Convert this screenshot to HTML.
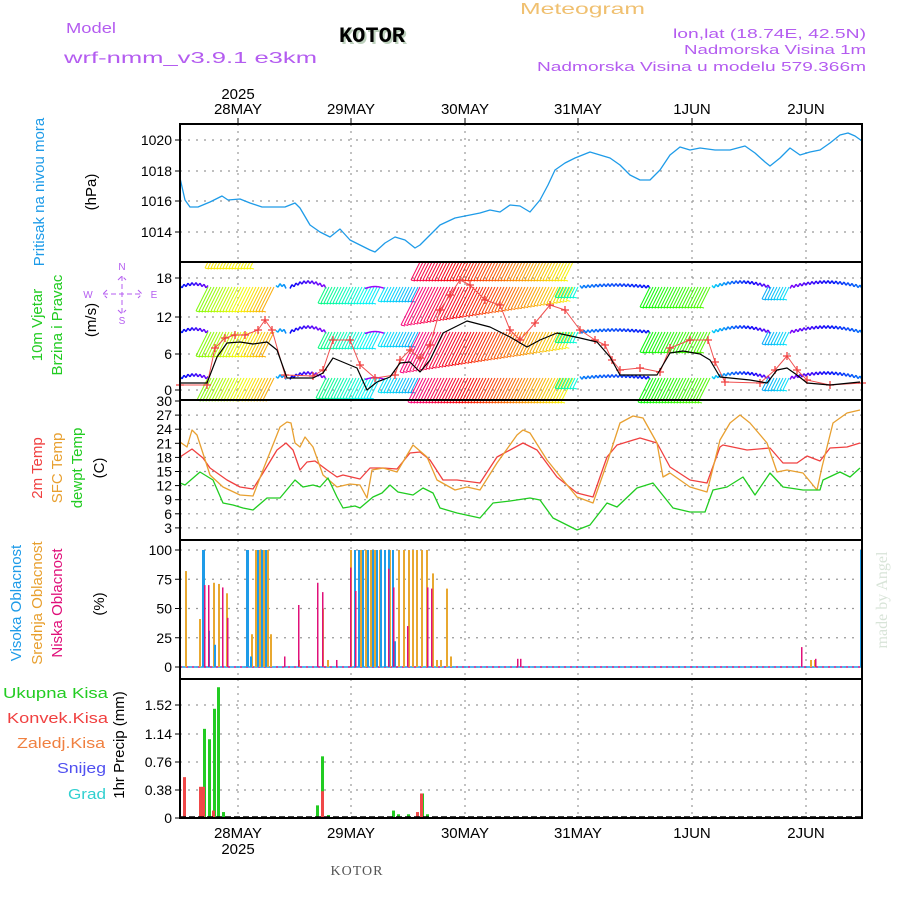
<!DOCTYPE html>
<html><head><meta charset="utf-8">
<style>
html,body{margin:0;padding:0;background:#fff;}
svg{display:block;font-family:"Liberation Sans",sans-serif;}
</style></head>
<body>
<svg id="s" width="900" height="900" xmlns="http://www.w3.org/2000/svg">
<g font-size="15" fill="#b45cf0" >
<text x="66" y="33" textLength="50" lengthAdjust="spacingAndGlyphs">Model</text>
<text x="64" y="63" font-size="16" textLength="253" lengthAdjust="spacingAndGlyphs">wrf-nmm_v3.9.1 e3km</text>
<text x="520" y="14" fill="#f0c070" font-size="16" textLength="125" lengthAdjust="spacingAndGlyphs">Meteogram</text>
<text x="673" y="38" font-size="13" textLength="193" lengthAdjust="spacingAndGlyphs">lon,lat (18.74E, 42.5N)</text>
<text x="684" y="54" font-size="13" textLength="182" lengthAdjust="spacingAndGlyphs">Nadmorska Visina 1m</text>
<text x="537" y="71" font-size="13" textLength="329" lengthAdjust="spacingAndGlyphs">Nadmorska Visina u modelu 579.366m</text>
</g>
<text x="374" y="44" text-anchor="middle" font-family="Liberation Mono,monospace" font-weight="bold" font-size="22" fill="#bcd0bc">KOTOR</text>
<text x="372" y="42" text-anchor="middle" font-family="Liberation Mono,monospace" font-weight="bold" font-size="22" fill="#000">KOTOR</text>
<text x="357" y="875" text-anchor="middle" font-family="Liberation Serif,serif" font-size="14" fill="#555" letter-spacing="1">KOTOR</text>
<text transform="translate(887,600) rotate(-90)" text-anchor="middle" font-family="Liberation Serif,serif" font-size="16" fill="#d8e4d8">made by Angel</text>
<g id="g"></g>
</svg>
<script>
var NS="http://www.w3.org/2000/svg",G=document.getElementById('g');
function el(t,a,txt){var e=document.createElementNS(NS,t);for(var k in a)e.setAttribute(k,a[k]);if(txt!=null)e.textContent=txt;G.appendChild(e);return e;}
function pl(pts,c,w){el('polyline',{points:pts.map(p=>p.join(',')).join(' '),fill:'none',stroke:c,'stroke-width':w||1.2,'stroke-linejoin':'round'});}
var X0=180,X1=862,days=[238,351,465,578,692,806];
var panels=[[124,262],[262,400],[400,540],[540,679],[679,818]];
function hgrid(y){el('line',{x1:X0,x2:X1,y1:y,y2:y,stroke:'#999','stroke-dasharray':'2,6','stroke-width':1.2});}
function tick(y,lab){el('line',{x1:X0-5,x2:X0,y1:y,y2:y,stroke:'#000'});el('text',{x:X0-8,y:y+5,'text-anchor':'end','font-size':14,fill:'#000'},lab);}
panels.forEach(p=>{days.forEach(d=>el('line',{x1:d,x2:d,y1:p[0],y2:p[1],stroke:'#999','stroke-dasharray':'2,5','stroke-width':1.2}));});
[[1020,140],[1018,171],[1016,201],[1014,232]].forEach(a=>{hgrid(a[1]);tick(a[1],a[0]);});
[[18,278],[12,317],[6,354],[0,390]].forEach(a=>{hgrid(a[1]);tick(a[1],a[0]);});
for(var v=3;v<=30;v+=3){var y=542-v*4.7;if(v<30)hgrid(y);tick(y,v);}
[100,75,50,25,0].forEach(v=>{var y=667-v*1.17;hgrid(y);tick(y,v);});
[[1.52,705],[1.14,734],[0.76,762],[0.38,790],[0,818]].forEach(a=>{if(a[0])hgrid(a[1]);tick(a[1],a[0]);});
var dl=['28MAY','29MAY','30MAY','31MAY','1JUN','2JUN'];
days.forEach((d,i)=>{el('text',{x:d,y:114,'text-anchor':'middle','font-size':15},dl[i]);el('line',{x1:d,x2:d,y1:118,y2:124,stroke:'#000'});});
el('text',{x:238,y:99,'text-anchor':'middle','font-size':15},'2025');
[[238,'28MAY'],[351,'29MAY'],[465,'30MAY'],[578,'31MAY'],[692,'1JUN'],[806,'2JUN']].forEach(a=>el('text',{x:a[0],y:838,'text-anchor':'middle','font-size':15},a[1]));
el('text',{x:238,y:854,'text-anchor':'middle','font-size':15},'2025');
pl([[180,178],[185,200],[190,207],[198,207],[210,202],[222,196],[228,200],[240,199],[250,203],[262,207],[275,207],[285,207],[295,203],[300,208],[310,225],[320,232],[330,237],[340,229],[350,240],[360,245],[370,250],[375,252],[385,243],[395,237],[405,240],[415,248],[420,245],[430,235],[440,225],[455,218],[465,216],[480,213],[490,210],[500,212],[510,205],[520,206],[530,212],[540,200],[548,185],[555,170],[565,163],[575,158],[590,152],[600,155],[610,158],[620,165],[630,175],[640,180],[650,180],[660,170],[670,155],[680,147],[690,150],[700,148],[715,150],[730,150],[745,146],[755,153],[765,162],[770,166],[780,158],[790,148],[800,155],[810,152],[820,150],[830,143],[840,135],[848,133],[855,136],[862,141]],'#1e9be8',1.3);
pl([[180,457],[192,449],[203,458],[210,468],[227,480],[240,487],[253,489],[263,473],[277,450],[286,443],[293,450],[300,470],[307,462],[315,461],[327,470],[337,477],[343,475],[360,479],[370,468],[383,468],[397,469],[410,453],[420,452],[430,460],[443,480],[457,480],[480,483],[497,457],[523,443],[537,450],[557,477],[577,493],[593,497],[607,457],[617,445],[640,438],[657,443],[670,467],[690,480],[707,483],[720,447],[723,445],[747,450],[770,448],[783,463],[797,463],[807,456],[820,461],[830,448],[847,447],[860,443]],'#f04040',1.3);
pl([[180,442],[187,447],[192,430],[197,435],[210,475],[223,487],[240,495],[253,496],[263,470],[280,427],[287,422],[291,423],[295,443],[300,447],[305,437],[313,447],[323,475],[337,487],[350,484],[360,485],[367,498],[372,470],[383,468],[397,472],[413,445],[427,457],[437,480],[455,490],[467,487],[480,490],[497,463],[517,435],[523,430],[530,433],[547,460],[563,480],[577,497],[593,503],[607,463],[620,423],[633,416],[643,418],[657,443],[663,477],[670,473],[690,487],[707,492],[720,440],[730,423],[740,415],[750,423],[767,443],[777,472],[787,470],[803,473],[817,490],[822,467],[833,423],[847,413],[860,410]],'#e8a030',1.3);
pl([[180,483],[185,485],[200,472],[213,480],[223,503],[233,505],[243,508],[253,510],[267,498],[280,498],[295,480],[303,487],[313,485],[320,487],[328,478],[337,497],[343,508],[355,506],[360,508],[373,497],[382,493],[390,485],[398,492],[413,495],[423,488],[433,493],[440,508],[457,513],[480,518],[493,503],[510,501],[530,498],[540,500],[553,518],[577,530],[590,525],[607,503],[617,507],[637,488],[653,483],[673,508],[690,512],[705,512],[713,490],[727,487],[743,477],[755,495],[770,473],[783,487],[803,490],[820,490],[823,480],[840,472],[850,477],[860,468]],'#20cc20',1.3);
function hue(h){h=((h%360)+360)%360;return 'hsl('+h.toFixed(0)+',95%,50%)';}
function hatch(x0,x1,base,L,h0,h1){for(var x=x0;x<=x1;x+=3){var t=(x-x0)/Math.max(1,x1-x0),h=h0+(h1-h0)*t;var l=typeof L=='function'?L(t):L;var x2=x-l*0.5,y2=base+l;el('line',{x1:x,y1:base,x2:x2,y2:y2,stroke:hue(h),'stroke-width':1});el('line',{x1:x2,y1:y2,x2:x2+4,y2:y2+1,stroke:hue(h),'stroke-width':1});}}
function arrows(x0,x1,base,h0,h1,amp){var pts=[];for(var x=x0;x<=x1;x+=2){var t=(x-x0)/Math.max(1,x1-x0);pts.push([x,base-Math.sin(t*Math.PI)*(amp||4)+((x%4)?1.5:-1.5)]);}
 for(var i=0;i<pts.length-1;i++){var t=i/pts.length;el('line',{x1:pts[i][0],y1:pts[i][1],x2:pts[i+1][0],y2:pts[i+1][1],stroke:hue(h0+(h1-h0)*t),'stroke-width':1.5});}}
[[287,0],[332,1],[378,2]].forEach(function(r){var b=r[0],k=r[1];
 arrows(180,208,b,235,270,3);
 hatch(208,275,b,k==2?22:24,90,40);
 arrows(276,286,b,200,210,2);
 arrows(290,326,b,240,275,5);
 hatch(326,380,b,k==2?20:16,150,185);
 arrows(365,385,b,275,280,2);
 hatch(385,420,b,14,185,200);
 hatch(420,575,b,function(t){return k==0?38-t*25:(k==1?40-t*25:24)},330,420);
 hatch(560,580,b,10,150,175);
 arrows(580,650,b,210,240,2);
 hatch(650,712,b,k==2?24:20,120,100);
 arrows(712,770,b,190,270,5);
 hatch(768,790,b,12,200,185);
 arrows(790,862,b,270,210,5);
});
hatch(208,255,262,6,55,60);hatch(420,575,262,18,340,420);
var blk=[[180,383],[207,383],[217,357],[227,343],[240,342],[253,344],[267,342],[277,350],[287,378],[313,378],[323,373],[333,358],[357,368],[367,390],[377,382],[390,377],[400,363],[410,362],[420,372],[430,360],[443,333],[467,321],[490,327],[510,337],[527,347],[540,340],[557,333],[580,338],[597,342],[610,357],[620,375],[633,375],[657,375],[670,353],[683,351],[700,354],[710,360],[720,377],[750,380],[767,383],[777,370],[787,368],[797,375],[807,383],[830,385],[860,382]];
var gst=[[180,385],[207,385],[215,348],[225,338],[235,335],[245,335],[258,330],[265,320],[272,330],[285,375],[313,376],[323,370],[333,340],[350,340],[360,365],[375,378],[395,375],[400,360],[410,350],[420,358],[430,345],[440,310],[450,295],[460,280],[470,285],[485,300],[500,305],[510,330],[520,340],[535,323],[550,305],[565,310],[580,330],[595,340],[605,345],[612,360],[620,370],[640,368],[660,372],[670,348],[690,340],[708,340],[715,362],[725,382],[760,383],[775,370],[787,356],[797,370],[807,380],[830,385],[862,383]];
pl(gst,'#f05050',1);
gst.forEach(p=>{el('path',{d:'M'+(p[0]-4)+' '+p[1]+'h8M'+p[0]+' '+(p[1]-4)+'v8',stroke:'#f04040','stroke-width':1.3});});
pl(blk,'#000',1.2);
function bar(x,v,c,w){var y=667-v*1.17;el('rect',{x:x,y:y,width:w||2,height:667-y,fill:c});}
el('line',{x1:180,x2:862,y1:667,y2:667,stroke:'#1e9be8','stroke-width':1.5});
el('line',{x1:180,x2:862,y1:667,y2:667,stroke:'#e81e8c','stroke-width':1.5,'stroke-dasharray':'2,4'});
var O='#e8a830',B='#1e9be8',P='#e0107a';
[[185,82],[199,41],[213,72],[218,71],[226,63],[251,28],[255,100],[259,100],[263,100],[267,100],[270,28],[298,6],[322,50],[327,6],[350,100],[360,100],[365,100],[370,100],[374,100],[379,100],[384,100],[389,100],[398,100],[403,100],[408,100],[412,100],[416,100],[421,100],[426,100],[432,80],[436,6],[440,6],[446,67],[450,9],[810,6],[814,6]].forEach(a=>bar(a[0],a[1],O));
[[202,100,3],[208,31],[214,19],[246,100,3],[250,9],[257,100],[261,100],[265,100],[354,100],[358,100],[362,100],[367,100],[372,100],[376,100],[380,100],[384,100],[388,100],[392,100],[394,22]].forEach(a=>bar(a[0],a[1],B,a[2]));
[[204,70],[208,70],[222,68],[227,42],[284,9],[298,53],[317,72],[322,64],[336,6],[350,85],[355,65],[388,84],[393,68],[407,35],[427,68],[431,67],[517,7],[520,7],[801,17],[815,7]].forEach(a=>bar(a[0],a[1],P,1.5));
el('rect',{x:860,y:550,width:2,height:117,fill:B});
function pb(x,v,c){var y=818-v*74.3;el('rect',{x:x,y:y,width:3,height:818-y,fill:c});}
[[203,1.2],[208,1.06],[213,1.47],[217,1.76],[222,0.08],[316,0.17],[321,0.83],[327,0.04],[392,0.1],[397,0.05],[407,0.05],[421,0.33],[426,0.05]].forEach(a=>pb(a[0],a[1],'#22cc22'));
[[183,0.55],[199,0.42],[202,0.42],[212,0.1],[321,0.36],[416,0.08],[420,0.33]].forEach(a=>pb(a[0],a[1],'#f04848'));
el('line',{x1:180,x2:862,y1:817,y2:817,stroke:'#000','stroke-width':1.5,'stroke-dasharray':'6,3'});
panels.forEach(p=>el('rect',{x:X0,y:p[0],width:X1-X0,height:p[1]-p[0],fill:'none',stroke:'#000','stroke-width':2}));
function rt(x,y,s,c,fs){el('text',{transform:'translate('+x+','+y+') rotate(-90)','text-anchor':'middle','font-size':fs||15,fill:c},s);}
rt(44,192,'Pritisak na nivou mora','#1e9be8');rt(96,192,'(hPa)','#000');
rt(42,325,'10m Vjetar','#22cc22');rt(62,325,'Brzina i Pravac','#22cc22');rt(96,320,'(m/s)','#000');
rt(42,468,'2m Temp','#f04040');rt(62,468,'SFC Temp','#e8a030');rt(82,468,'dewpt Temp','#22cc22');rt(104,468,'(C)','#000');
rt(21,603,'Visoka Oblacnost','#1e9be8');rt(42,603,'Srednja Oblacnost','#e8a030');rt(62,603,'Niska Oblacnost','#e0107a');rt(104,604,'(%)','#000');
rt(124,745,'1hr Precip (mm)','#000');
[['Ukupna  Kisa','#22cc22',698,3,105],['Konvek.Kisa','#f04040',723,7,101],['Zaledj.Kisa','#f08040',748,17,88],['Snijeg','#5050f0',773,57,49],['Grad','#30d0d0',799,68,38]].forEach(a=>el('text',{x:a[3],y:a[2],'font-size':15,fill:a[1],textLength:a[4],lengthAdjust:'spacingAndGlyphs'},a[0]));
var cc='#b45cf0';
el('text',{x:122,y:270,'text-anchor':'middle','font-size':10,fill:cc},'N');
el('text',{x:122,y:324,'text-anchor':'middle','font-size':10,fill:cc},'S');
el('text',{x:88,y:298,'text-anchor':'middle','font-size':10,fill:cc},'W');
el('text',{x:154,y:298,'text-anchor':'middle','font-size':10,fill:cc},'E');
el('path',{d:'M103 294H142M122 276V314M107 290L103 294L107 298M138 290L142 294L138 298M118 280L122 276L126 280M118 310L122 314L126 310',stroke:cc,fill:'none','stroke-width':1,'stroke-dasharray':'5,3'});
</script>
</body></html>
